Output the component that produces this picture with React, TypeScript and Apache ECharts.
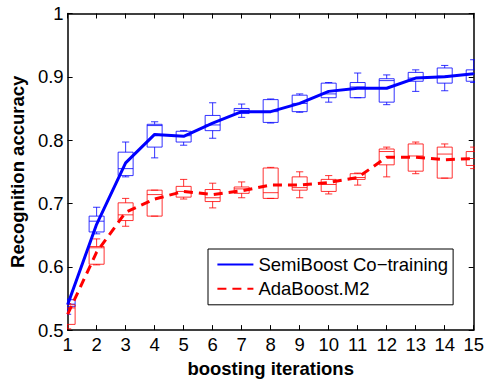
import React, { useEffect, useRef } from "react";
import * as echarts from "echarts";

const iterations = [1, 2, 3, 4, 5, 6, 7, 8, 9, 10, 11, 12, 13, 14, 15];
const seriesNames = ["SemiBoost Co\u2212training", "AdaBoost.M2"];
const blueMean = [0.540, 0.667, 0.764, 0.809, 0.806, 0.827, 0.845, 0.845, 0.858, 0.877, 0.882, 0.882, 0.898, 0.900, 0.905];
const redMean = [0.525, 0.623, 0.686, 0.707, 0.719, 0.714, 0.720, 0.729, 0.729, 0.733, 0.741, 0.773, 0.773, 0.769, 0.771];
// [min, q1, median, q3, max]
const blueBox = [
  [0.525, 0.537, 0.541, 0.548, 0.549],
  [0.652, 0.655, 0.672, 0.680, 0.694],
  [0.742, 0.744, 0.755, 0.781, 0.797],
  [0.772, 0.789, 0.823, 0.825, 0.829],
  [0.792, 0.797, 0.807, 0.814, 0.815],
  [0.803, 0.815, 0.824, 0.839, 0.859],
  [0.836, 0.842, 0.847, 0.850, 0.857],
  [0.827, 0.828, 0.845, 0.864, 0.865],
  [0.844, 0.845, 0.858, 0.871, 0.873],
  [0.860, 0.867, 0.873, 0.890, 0.891],
  [0.867, 0.867, 0.884, 0.891, 0.906],
  [0.856, 0.860, 0.894, 0.897, 0.903],
  [0.877, 0.893, 0.898, 0.907, 0.911],
  [0.878, 0.890, 0.901, 0.914, 0.918],
  [0.891, 0.893, 0.905, 0.911, 0.927],
];
const redBox = [
  [0.502, 0.509, 0.535, 0.540, 0.542],
  [0.603, 0.604, 0.630, 0.632, 0.644],
  [0.664, 0.673, 0.682, 0.701, 0.708],
  [0.680, 0.680, 0.714, 0.721, 0.721],
  [0.707, 0.710, 0.719, 0.727, 0.738],
  [0.693, 0.703, 0.709, 0.722, 0.732],
  [0.709, 0.716, 0.723, 0.726, 0.734],
  [0.708, 0.708, 0.717, 0.756, 0.757],
  [0.709, 0.721, 0.725, 0.742, 0.750],
  [0.715, 0.719, 0.730, 0.738, 0.744],
  [0.729, 0.738, 0.741, 0.747, 0.748],
  [0.742, 0.761, 0.782, 0.786, 0.789],
  [0.747, 0.751, 0.775, 0.794, 0.797],
  [0.740, 0.740, 0.778, 0.789, 0.794],
  [0.755, 0.760, 0.771, 0.782, 0.789],
];

const FONT = "'Liberation Sans', Arial, Helvetica, sans-serif";
const BLUE = "#0000ff";
const RED = "#ff0000";

function makeBoxRenderer(color: string) {
  return (params: any, api: any) => {
    const x = api.value(0);
    const pMin = api.coord([x, api.value(1)]);
    const pQ1 = api.coord([x, api.value(2)]);
    const pMed = api.coord([x, api.value(3)]);
    const pQ3 = api.coord([x, api.value(4)]);
    const pMax = api.coord([x, api.value(5)]);
    const hw = 7.5;
    const cw = 3.6;
    const cx = pMed[0];
    const style = { stroke: color, fill: "none", lineWidth: 1, opacity: 0.8 };
    return {
      type: "group",
      children: [
        { type: "rect", shape: { x: cx - hw, y: pQ3[1], width: hw * 2, height: pQ1[1] - pQ3[1] }, style },
        { type: "line", shape: { x1: cx - hw, y1: pMed[1], x2: cx + hw, y2: pMed[1] }, style },
        { type: "line", shape: { x1: cx, y1: pQ3[1], x2: cx, y2: pMax[1] }, style },
        { type: "line", shape: { x1: cx, y1: pQ1[1], x2: cx, y2: pMin[1] }, style },
        { type: "line", shape: { x1: cx - cw, y1: pMax[1], x2: cx + cw, y2: pMax[1] }, style },
        { type: "line", shape: { x1: cx - cw, y1: pMin[1], x2: cx + cw, y2: pMin[1] }, style },
      ],
    };
  };
}

export default function App() {
  const ref = useRef<HTMLDivElement>(null);
  useEffect(() => {
    if (!ref.current) return;
    const chart = echarts.init(ref.current, null, { renderer: "svg" });
    const axisLine = { show: true, onZero: false, lineStyle: { color: "#000", width: 1.5 } };
    const axisTick = { show: true, inside: true, length: 5, lineStyle: { color: "#000", width: 1 } };
    chart.setOption({
      animation: false,
      backgroundColor: "#fff",
      textStyle: { fontFamily: FONT },
      grid: { left: 64, right: 12, top: 13.5, bottom: 49, containLabel: false },
      legend: {
        data: seriesNames,
        orient: "vertical",
        left: 208,
        top: 249,
        padding: [5.5, 5, 6, 8.4],
        itemWidth: 36,
        itemHeight: 20,
        itemGap: 4.3,
        borderColor: "#000",
        borderWidth: 1,
        backgroundColor: "#fff",
        itemStyle: { opacity: 0 },
        lineStyle: { width: 2 },
        textStyle: { fontFamily: FONT, fontSize: 18.5, color: "#000", lineHeight: 20 },
      },
      xAxis: [
        {
          type: "value",
          min: 1,
          max: 15,
          interval: 1,
          position: "bottom",
          name: "boosting iterations",
          nameLocation: "middle",
          nameGap: 28,
          nameTextStyle: { fontFamily: FONT, fontSize: 18.5, fontWeight: "bold", color: "#000" },
          axisLine,
          axisTick,
          splitLine: { show: false },
          axisLabel: { fontFamily: FONT, fontSize: 18.5, color: "#000", margin: 5 },
        },
        {
          type: "value",
          min: 1,
          max: 15,
          interval: 1,
          position: "top",
          axisLine,
          axisTick,
          splitLine: { show: false },
          axisLabel: { show: false },
        },
      ],
      yAxis: [
        {
          type: "value",
          min: 0.5,
          max: 1,
          interval: 0.1,
          position: "left",
          name: "Recognition accuracy",
          nameLocation: "middle",
          nameGap: 37,
          nameTextStyle: { fontFamily: FONT, fontSize: 18.5, fontWeight: "bold", color: "#000" },
          axisLine,
          axisTick,
          splitLine: { show: false },
          axisLabel: {
            fontFamily: FONT,
            fontSize: 18.5,
            color: "#000",
            margin: 4,
            formatter: (v: number) => String(Math.round(v * 10) / 10),
          },
        },
        {
          type: "value",
          min: 0.5,
          max: 1,
          interval: 0.1,
          position: "right",
          axisLine,
          axisTick,
          splitLine: { show: false },
          axisLabel: { show: false },
        },
      ],
      series: [
        {
          type: "custom",
          clip: true,
          xAxisIndex: 0,
          yAxisIndex: 0,
          renderItem: makeBoxRenderer(BLUE),
          data: iterations.map((it, i) => [it, ...blueBox[i]]),
          encode: { x: 0, y: [1, 2, 3, 4, 5] },
          z: 2,
        },
        {
          type: "custom",
          clip: true,
          xAxisIndex: 0,
          yAxisIndex: 0,
          renderItem: makeBoxRenderer(RED),
          data: iterations.map((it, i) => [it, ...redBox[i]]),
          encode: { x: 0, y: [1, 2, 3, 4, 5] },
          z: 2,
        },
        {
          type: "line",
          name: seriesNames[1],
          data: iterations.map((it, i) => [it, redMean[i]]),
          symbol: "none",
          color: RED,
          lineStyle: { color: RED, width: 3, type: [9, 6] },
          z: 3,
        },
        {
          type: "line",
          name: seriesNames[0],
          data: iterations.map((it, i) => [it, blueMean[i]]),
          symbol: "none",
          color: BLUE,
          lineStyle: { color: BLUE, width: 3 },
          z: 4,
        },
      ],
    });
    return () => chart.dispose();
  }, []);
  return <div ref={ref} style={{ width: 487, height: 383, position: "absolute", left: 0, top: 0 }} />;
}
